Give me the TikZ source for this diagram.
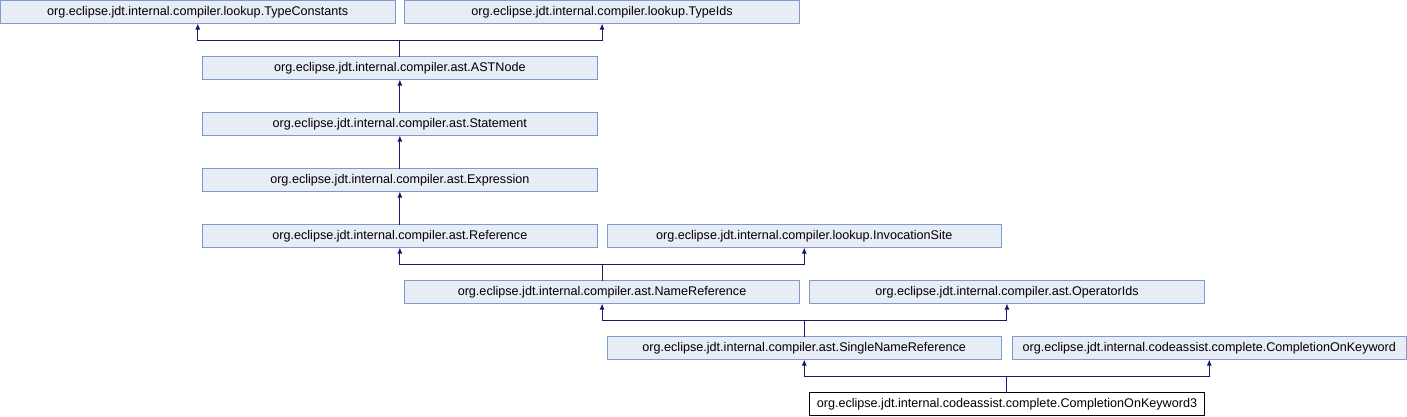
\documentclass[tikz,border=0pt]{standalone}
\usepackage{fontspec}
\setmainfont{Liberation Sans}
\usetikzlibrary{arrows.meta}
\definecolor{boxfill}{HTML}{E8ECF4}
\definecolor{boxline}{HTML}{7F9AD0}
\definecolor{edgecol}{HTML}{191970}
\tikzset{
  cls/.style={draw=boxline, fill=boxfill, line width=1pt, minimum width=394.5pt, minimum height=23pt,
    inner sep=0pt, outer sep=0pt, anchor=north west, font=\fontsize{12.6}{14}\selectfont},
  focus/.style={cls, draw=black, fill=white},
  edge/.style={draw=edgecol, line width=1pt, -{Latex[length=6pt,width=5pt]}}
}
\begin{document}
\begin{tikzpicture}[x=1pt,y=-1pt]
\useasboundingbox (0,0) rectangle (1407,416);
\node[cls] (tc) at (0.5,0.5) {org.eclipse.jdt.internal.compiler.lookup.TypeConstants};
\node[cls] (ti) at (404.8,0.5) {org.eclipse.jdt.internal.compiler.lookup.TypeIds};
\node[cls] (ast) at (202.6,56.5) {org.eclipse.jdt.internal.compiler.ast.ASTNode};
\node[cls] (stmt) at (202.6,112.5) {org.eclipse.jdt.internal.compiler.ast.Statement};
\node[cls] (expr) at (202.6,168.5) {org.eclipse.jdt.internal.compiler.ast.Expression};
\node[cls] (ref) at (202.6,224.5) {org.eclipse.jdt.internal.compiler.ast.Reference};
\node[cls] (inv) at (607,224.5) {org.eclipse.jdt.internal.compiler.lookup.InvocationSite};
\node[cls] (nref) at (404.8,280.5) {org.eclipse.jdt.internal.compiler.ast.NameReference};
\node[cls] (opids) at (809.7,280.5) {org.eclipse.jdt.internal.compiler.ast.OperatorIds};
\node[cls] (sref) at (607,336.5) {org.eclipse.jdt.internal.compiler.ast.SingleNameReference};
\node[cls] (cok) at (1012,336.5) {org.eclipse.jdt.internal.codeassist.complete.CompletionOnKeyword};
\node[focus] (cok3) at (809.7,392.5) {org.eclipse.jdt.internal.codeassist.complete.CompletionOnKeyword3};

\draw[edgecol, line width=1pt] (ast.north) -- ++(0,-16) coordinate (j1);
\draw[edge] (j1) -| (tc.south);
\draw[edge] (j1) -| (ti.south);
\draw[edge] (stmt.north) -- (ast.south);
\draw[edge] (expr.north) -- (stmt.south);
\draw[edge] (ref.north) -- (expr.south);
\draw[edgecol, line width=1pt] (nref.north) -- ++(0,-16) coordinate (j2);
\draw[edge] (j2) -| (ref.south);
\draw[edge] (j2) -| (inv.south);
\draw[edgecol, line width=1pt] (sref.north) -- ++(0,-16) coordinate (j3);
\draw[edge] (j3) -| (nref.south);
\draw[edge] (j3) -| (opids.south);
\draw[edgecol, line width=1pt] (cok3.north) -- ++(0,-16) coordinate (j4);
\draw[edge] (j4) -| (sref.south);
\draw[edge] (j4) -| (cok.south);
\end{tikzpicture}
\end{document}
